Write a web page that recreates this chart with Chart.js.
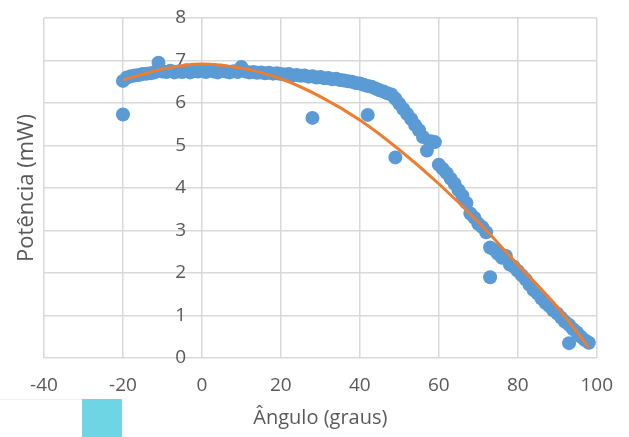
<!DOCTYPE html>
<html>
<head>
<meta charset="utf-8">
<script src="https://cdn.jsdelivr.net/npm/chart.js@4"></script>
<style>
  html, body { margin: 0; padding: 0; background: #fff; }
  #wrap { position: relative; width: 629px; height: 437px; }
  #chart { position: absolute; left: 0; top: 0; }
  #swatch { position: absolute; left: 82px; top: 399px; width: 40px; height: 38px; background: #6dd5e3; }
  #rule { position: absolute; left: 0; top: 399px; width: 82px; height: 1px; background: #e3f6f9; }
</style>
</head>
<body>
<div id="wrap">
  <canvas id="chart" width="629" height="437"></canvas>
  <div id="rule"></div>
  <div id="swatch"></div>
</div>
<script>
// measured points (angle in degrees, power in mW)
const angles = [
  -20, -19, -18, -17, -16, -15, -14, -13, -12, -11, -10, -9, -8, -7, -6, -5, -4, -3, -2, -1,
  0, 1, 2, 3, 4, 5, 6, 7, 8, 9, 10, 11, 12, 13, 14, 15, 16, 17, 18, 19,
  20, 21, 22, 23, 24, 25, 26, 27, 28, 29, 30, 31, 32, 33, 34, 35, 36, 37, 38, 39,
  40, 41, 42, 43, 44, 45, 46, 47, 48, 49, 50, 51, 52, 53, 54, 55, 56, 57, 58, 59,
  60, 61, 62, 63, 64, 65, 66, 67, 68, 69, 70, 71, 72, 73, 74, 75, 76, 77, 78, 79,
  80, 81, 82, 83, 84, 85, 86, 87, 88, 89, 90, 91, 92, 93, 94, 95, 96, 97, 98,
  -20, 28, 42, 49, 73, 93
];
const power = [
  6.52, 6.60, 6.63, 6.65, 6.66, 6.68, 6.69, 6.70, 6.72, 6.95, 6.74, 6.73, 6.76, 6.72, 6.74, 6.73, 6.77, 6.72, 6.75, 6.74,
  6.76, 6.73, 6.77, 6.74, 6.72, 6.76, 6.74, 6.72, 6.75, 6.73, 6.85, 6.74, 6.72, 6.73, 6.71, 6.72, 6.70, 6.71, 6.69, 6.70,
  6.68, 6.67, 6.68, 6.65, 6.66, 6.64, 6.65, 6.62, 6.63, 6.60, 6.61, 6.58, 6.59, 6.56, 6.57, 6.54, 6.53, 6.51, 6.50, 6.47,
  6.46, 6.43, 6.40, 6.38, 6.34, 6.30, 6.27, 6.23, 6.20, 6.10, 5.98, 5.86, 5.74, 5.62, 5.48, 5.36, 5.20, 4.88, 5.10, 5.08,
  4.55, 4.45, 4.35, 4.22, 4.10, 3.95, 3.82, 3.65, 3.40, 3.30, 3.16, 3.08, 2.96, 2.60, 2.55, 2.45, 2.36, 2.40, 2.20, 2.15,
  2.05, 1.95, 1.85, 1.72, 1.60, 1.52, 1.40, 1.30, 1.22, 1.12, 1.05, 0.95, 0.85, 0.78, 0.68, 0.60, 0.50, 0.42, 0.36,
  5.73, 5.65, 5.72, 4.72, 1.90, 0.35
];
// trend line
const trendAngles = [-20, -10, 0, 10, 20, 30, 40, 50, 60, 70, 80, 90, 98];
const trendPower = [6.54, 6.80, 6.92, 6.82, 6.57, 6.15, 5.60, 4.90, 4.10, 3.20, 2.20, 1.20, 0.25];

const xTicks = [-40, -20, 0, 20, 40, 60, 80, 100];
const yTicks = [0, 1, 2, 3, 4, 5, 6, 7, 8];

const textColor = '#595959';
const gridColor = '#d9d9d9';
const fontFamily = '"Open Sans", "Liberation Sans", sans-serif';

const points = angles.map((a, i) => ({ x: a, y: power[i] }));
const trend = trendAngles.map((a, i) => ({ x: a, y: trendPower[i] }));

new Chart(document.getElementById('chart'), {
  type: 'scatter',
  data: {
    datasets: [
      {
        label: 'Potência',
        data: points,
        backgroundColor: '#5b9bd5',
        borderColor: '#5b9bd5',
        pointRadius: 7,
        pointBorderWidth: 0,
        order: 2
      },
      {
        label: 'Tendência',
        type: 'line',
        data: trend,
        borderColor: '#ed7d31',
        borderWidth: 3,
        pointRadius: 0,
        cubicInterpolationMode: 'monotone',
        fill: false,
        order: 1
      }
    ]
  },
  options: {
    responsive: false,
    animation: false,
    layout: { padding: { top: 18, right: 29, left: 0, bottom: 0 } },
    plugins: {
      legend: { display: false },
      tooltip: { enabled: false }
    },
    scales: {
      x: {
        type: 'linear',
        min: -40,
        max: 100,
        afterBuildTicks: (scale) => { scale.ticks = xTicks.map(v => ({ value: v })); },
        afterFit: (scale) => { scale.height = 79; },
        grid: { color: gridColor, lineWidth: 1.5, drawTicks: false },
        border: { display: false },
        ticks: { color: textColor, font: { family: fontFamily, size: 19 }, padding: 16 },
        title: {
          display: true,
          text: 'Ângulo (graus)',
          color: textColor,
          font: { family: fontFamily, size: 20 },
          padding: { top: 0, bottom: 7 }
        }
      },
      y: {
        type: 'linear',
        position: 'left',
        min: 0,
        max: 8,
        afterBuildTicks: (scale) => { scale.ticks = yTicks.map(v => ({ value: v })); },
        afterFit: (scale) => { scale.width = 44; },
        grid: { color: gridColor, lineWidth: 1.5, drawTicks: false },
        border: { display: false },
        ticks: { display: false },
        title: {
          display: true,
          text: 'Potência (mW)',
          color: textColor,
          font: { family: fontFamily, size: 22 },
          padding: { top: 14, bottom: 0 }
        }
      },
      yLabels: {
        type: 'linear',
        axis: 'y',
        position: { x: -4 },
        min: 0,
        max: 8,
        afterBuildTicks: (scale) => { scale.ticks = yTicks.map(v => ({ value: v })); },
        grid: { display: false, drawTicks: false },
        border: { display: false },
        ticks: { color: textColor, font: { family: fontFamily, size: 19 } }
      }
    }
  }
});
</script>
</body>
</html>
